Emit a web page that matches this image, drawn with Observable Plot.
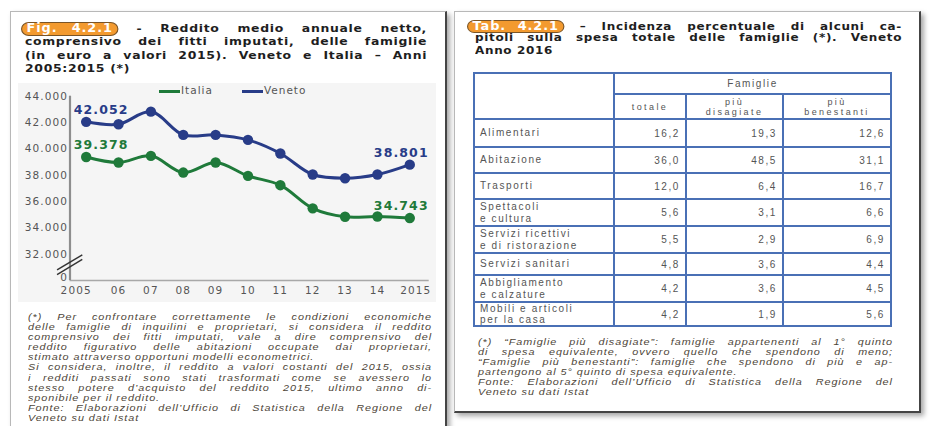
<!DOCTYPE html>
<html><head><meta charset="utf-8">
<script src="https://cdn.jsdelivr.net/npm/d3@7"></script>
<script src="https://cdn.jsdelivr.net/npm/@observablehq/plot@0.6"></script>
<style>
html,body{margin:0;padding:0;width:935px;height:426px;overflow:hidden;background:#fff;}
body{position:relative;font-family:"DejaVu Sans",sans-serif;}
.panel{position:absolute;background:#fff;border:1px solid #b8b8b8;box-shadow:3px 3px 5px rgba(0,0,0,.35);}
#pl{left:10px;top:11px;width:434px;height:450px;border-right:2px solid #444;}
#pr{left:454px;top:11px;width:464px;height:399px;border-right:2px solid #444;border-bottom:2px solid #444;}
.line{position:absolute;white-space:nowrap;text-align:justify;text-align-last:justify;transform-origin:0 0;transform:scaleX(1.12);}
.title{font-weight:bold;font-size:11.1px;line-height:13px;color:#1e1e1e;letter-spacing:0.6px;}
.title.r{font-size:10.7px;line-height:12.5px;}
.badge{display:inline-block;box-sizing:border-box;width:87px;background:#f39a2f;color:#fff;border:1px solid #7a5426;border-radius:7px;padding:0 4px;font-size:11.5px;line-height:11.5px;text-align-last:justify;letter-spacing:0.8px;}
.notes{position:absolute;font-family:"Liberation Sans",sans-serif;font-style:italic;font-size:9px;line-height:10.1px;color:#4d4538;letter-spacing:0.8px;transform-origin:0 0;transform:scaleX(1.2);}
.notes div{white-space:nowrap;text-align:justify;text-align-last:justify;}
.notes div.last{text-align-last:left;}
#chartbg{position:absolute;left:18px;top:83px;width:418px;height:219px;background:#f5f5f5;}
#chart{position:absolute;left:20px;top:80px;}
#chart svg text{letter-spacing:1.1px;}
#legend{position:absolute;left:159px;top:84px;font-size:10.5px;color:#555;letter-spacing:1px;line-height:12px;white-space:nowrap;}
#legend span.sw{display:inline-block;width:21px;height:3px;vertical-align:middle;margin-right:1px;}
#legend span.it{margin-right:29px;}
table{position:absolute;left:473px;top:72px;border-collapse:collapse;table-layout:fixed;width:418px;font-family:"Liberation Sans",sans-serif;font-size:10px;color:#555;letter-spacing:1.6px;}
td{border:2px solid #4a70b5;padding:0 5px;overflow:hidden;white-space:nowrap;}
td.num{text-align:right;}
td.hd{text-align:center;line-height:10px;}
td.hd.sub{font-size:9px;letter-spacing:2.4px;}
td.lab{line-height:11.2px;}
</style></head>
<body>
<div class="panel" id="pl"></div>
<div class="panel" id="pr"></div>

<div class="line title" style="left:21px;top:22px;width:362.5px"><span class="badge">Fig. 4.2.1</span> - Reddito medio annuale netto,</div>
<div class="line title" style="left:25px;top:35px;width:359px">comprensivo dei fitti imputati, delle famiglie</div>
<div class="line title" style="left:25px;top:48.5px;width:359px">(in euro a valori 2015). Veneto e Italia – Anni</div>
<div class="line title" style="left:25px;top:61.5px;width:359px;text-align-last:left">2005:2015 (*)</div>

<div class="line title r" style="left:467px;top:19.5px;width:388.4px"><span class="badge">Tab. 4.2.1</span> – Incidenza percentuale di alcuni ca-</div>
<div class="line title r" style="left:475px;top:32px;width:381.3px">pitoli sulla spesa totale delle famiglie (*). Veneto</div>
<div class="line title r" style="left:475px;top:44.5px;width:381.3px;text-align-last:left">Anno 2016</div>

<div id="chartbg"></div>
<div id="chart"></div>
<div id="legend"></div>

<div class="notes" id="notesL" style="left:28px;top:312px;width:336.7px"></div>
<div class="notes" id="notesR" style="left:478px;top:336.5px;width:345.8px"></div>

<script>
// ---- Chart data ----
const years = [2005, 2006, 2007, 2008, 2009, 2010, 2011, 2012, 2013, 2014, 2015];
const italia = [39378, 38960, 39470, 38200, 38960, 37950, 37240, 35480, 34840, 34860, 34743];
const veneto = [42052, 41870, 42830, 41060, 41060, 40680, 39650, 38050, 37770, 38050, 38801];
const seriesNames = ["Italia", "Veneto"];
const seriesColors = ["#1f7a3a", "#283c88"];
const yTicks = [30000, 32000, 34000, 36000, 38000, 40000, 42000, 44000];
const yBreak = 31200;

// ---- Table data ----
const tableHeader = "Famiglie";
const tableCols = ["totale", "più\ndisagiate", "più\nbenestanti"];
const categories = ["Alimentari", "Abitazione", "Trasporti", "Spettacoli\ne cultura", "Servizi ricettivi\ne di ristorazione", "Servizi sanitari", "Abbigliamento\ne calzature", "Mobili e articoli\nper la casa"];
const totale = [16.2, 36.0, 12.0, 5.6, 5.5, 4.8, 4.2, 4.2];
const disagiate = [19.3, 48.5, 6.4, 3.1, 2.9, 3.6, 3.6, 1.9];
const benestanti = [12.6, 31.1, 16.7, 6.6, 6.9, 4.4, 4.5, 5.6];

// ---- Notes ----
const notesLeft = [
  "(*) Per confrontare correttamente le condizioni economiche",
  "delle famiglie di inquilini e proprietari, si considera il reddito",
  "comprensivo dei fitti imputati, vale a dire comprensivo del",
  "reddito figurativo delle abitazioni occupate dai proprietari,",
  "stimato attraverso opportuni modelli econometrici.|",
  "Si considera, inoltre, il reddito a valori costanti del 2015, ossia",
  "i redditi passati sono stati trasformati come se avessero lo",
  "stesso potere d’acquisto del reddito 2015, ultimo anno di-",
  "sponibile per il reddito.|",
  "Fonte: Elaborazioni dell’Ufficio di Statistica della Regione del",
  "Veneto su dati Istat|"
];
const notesRight = [
  "(*) “Famiglie più disagiate”: famiglie appartenenti al 1° quinto",
  "di spesa equivalente, ovvero quello che spendono di meno;",
  "“Famiglie più benestanti”: famiglie che spendono di più e ap-",
  "partengono al 5° quinto di spesa equivalente.|",
  "Fonte: Elaborazioni dell’Ufficio di Statistica della Regione del",
  "Veneto su dati Istat|"
];

const it = d3.formatLocale({decimal: ",", thousands: ".", grouping: [3], currency: ["€", ""]});
const fmtInt = it.format(",d");
const fmt1 = it.format(".1f");

const data = [];
years.forEach((y, i) => {
  data.push({year: y, value: italia[i], series: seriesNames[0]});
  data.push({year: y, value: veneto[i], series: seriesNames[1]});
});
const firsts = data.filter(d => d.year === years[0]);
const lasts = data.filter(d => d.year === years[years.length - 1]);
const x0 = 2004.5;
const middleYears = years.slice(1, -1);
const axisStyle = {tickSize: 0, fontSize: 10.5, fill: "#555", label: null};

const chart = Plot.plot({
  width: 420, height: 225,
  marginLeft: 49.5, marginRight: 11.3, marginTop: 15.7, marginBottom: 25,
  x: {domain: [x0, 2015.6], label: null},
  y: {domain: [yTicks[0], yTicks[yTicks.length - 1]], label: null},
  color: {domain: seriesNames, range: seriesColors},
  style: {background: "transparent", fontFamily: "DejaVu Sans", overflow: "visible"},
  marks: [
    Plot.ruleY([yTicks[0]], {stroke: "#a8a8a8", strokeWidth: 1.5}),
    Plot.ruleX([x0], {y1: yTicks[0], y2: yTicks[yTicks.length - 1], stroke: "#8e8e8e", strokeWidth: 2.2}),
    Plot.link([0, 1], {
      x1: x0 - 0.4, x2: x0 + 0.38,
      y1: d => yBreak - 750 + d * 350, y2: d => yBreak + 400 + d * 350,
      stroke: "#333", strokeWidth: 1.4
    }),
    Plot.axisY({...axisStyle, ticks: yTicks.slice(1), tickPadding: 2, tickFormat: d => fmtInt(d)}),
    Plot.axisY({...axisStyle, ticks: [yTicks[0]], tickPadding: 2, dy: -2.5, tickFormat: () => "0"}),
    Plot.axisX({...axisStyle, ticks: middleYears, tickPadding: 6, tickFormat: d => String(d).slice(2)}),
    Plot.axisX({...axisStyle, ticks: [years[0]], tickPadding: 6, dx: -10, tickFormat: d => String(d)}),
    Plot.axisX({...axisStyle, ticks: [years[years.length - 1]], tickPadding: 6, dx: 6, tickFormat: d => String(d)}),
    Plot.line(data, {x: "year", y: "value", stroke: "series", z: "series", strokeWidth: 3, curve: "catmull-rom"}),
    Plot.dot(data, {x: "year", y: "value", fill: "series", r: 5.2}),
    Plot.text(firsts, {x: "year", y: "value", text: d => fmtInt(d.value), fill: "series", dx: 15, dy: -12, fontSize: 12.5, fontWeight: "bold"}),
    Plot.text(lasts, {x: "year", y: "value", text: d => fmtInt(d.value), fill: "series", dx: -8.5, dy: -12, fontSize: 12.5, fontWeight: "bold"})
  ]
});
document.getElementById("chart").appendChild(chart);

// Legend
const leg = document.getElementById("legend");
seriesNames.forEach((n, i) => {
  const sw = document.createElement("span");
  sw.className = "sw"; sw.style.background = seriesColors[i];
  const t = document.createElement("span");
  t.textContent = n; if (i === 0) t.className = "it";
  leg.appendChild(sw); leg.appendChild(t);
});

// Table
const rowHeights = [21, 25, 28, 26, 26, 27, 27, 22, 27, 24];
const colWidths = [140, 72, 97, 108];
const table = document.createElement("table");
const cg = document.createElement("colgroup");
colWidths.forEach(w => { const c = document.createElement("col"); c.style.width = w + "px"; cg.appendChild(c); });
table.appendChild(cg);
const tr1 = document.createElement("tr"); tr1.style.height = rowHeights[0] + "px";
const tdEmpty = document.createElement("td"); tdEmpty.rowSpan = 2; tr1.appendChild(tdEmpty);
const tdF = document.createElement("td"); tdF.colSpan = 3; tdF.className = "hd"; tdF.textContent = tableHeader; tr1.appendChild(tdF);
table.appendChild(tr1);
const tr2 = document.createElement("tr"); tr2.style.height = rowHeights[1] + "px";
tableCols.forEach(c => { const td = document.createElement("td"); td.className = "hd sub"; td.innerHTML = c.replace("\n", "<br>"); tr2.appendChild(td); });
table.appendChild(tr2);
categories.forEach((cat, i) => {
  const tr = document.createElement("tr"); tr.style.height = rowHeights[i + 2] + "px";
  const tl = document.createElement("td"); tl.className = "lab"; tl.innerHTML = cat.replace("\n", "<br>"); tr.appendChild(tl);
  [totale, disagiate, benestanti].forEach(arr => {
    const td = document.createElement("td"); td.className = "num"; td.textContent = fmt1(arr[i]); tr.appendChild(td);
  });
  table.appendChild(tr);
});
document.body.appendChild(table);

// Notes
function fillNotes(id, lines) {
  const el = document.getElementById(id);
  lines.forEach(l => {
    const d = document.createElement("div");
    if (l.endsWith("|")) { d.className = "last"; d.textContent = l.slice(0, -1); }
    else d.textContent = l;
    el.appendChild(d);
  });
}
fillNotes("notesL", notesLeft);
fillNotes("notesR", notesRight);
</script>
</body></html>
